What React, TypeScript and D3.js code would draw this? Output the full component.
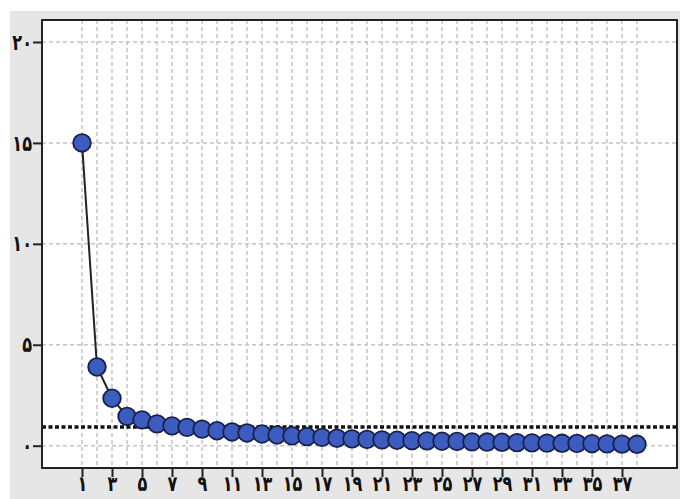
import React, { useEffect, useRef } from "react";
import * as d3 from "d3";

// scree plot values (eigenvalue per component)
const components = d3.range(1, 39);
const eigenvalues = [
  15.0, 3.9, 2.35, 1.45, 1.28, 1.08, 0.98, 0.91, 0.82, 0.74,
  0.68, 0.63, 0.58, 0.53, 0.49, 0.45, 0.41, 0.37, 0.34, 0.31,
  0.29, 0.27, 0.25, 0.24, 0.22, 0.21, 0.19, 0.18, 0.17, 0.15,
  0.14, 0.13, 0.12, 0.11, 0.1, 0.09, 0.08, 0.07,
];
const yTicks = [0, 5, 10, 15, 20];
const xTicks = d3.range(1, 38, 2);
const threshold = 0.93;

const toPersian = (n: number) =>
  String(n).replace(/\d/g, (d) => "۰۱۲۳۴۵۶۷۸۹"[+d]);

const ScreePlot = () => {
  const ref = useRef<SVGSVGElement>(null);

  const W = 680;
  const H = 499;
  const panel = { left: 42, right: 677, top: 20, bottom: 468 };

  useEffect(() => {
    const svg = d3.select(ref.current);
    svg.selectAll("*").remove();

    const data = components.map((c, i) => ({ c, v: eigenvalues[i] }));

    const x = d3.scaleLinear().domain([1, 38]).range([82, 637]);
    const y = d3.scaleLinear().domain([0, 20]).range([445.7, 42]);

    // background
    svg.append("rect").attr("x", 10).attr("y", 11).attr("width", W - 10).attr("height", H - 11).attr("fill", "#e6e6e6");
    svg
      .append("rect")
      .attr("x", panel.left)
      .attr("y", panel.top)
      .attr("width", panel.right - panel.left)
      .attr("height", panel.bottom - panel.top)
      .attr("fill", "#fff");

    // grid
    const grid = svg.append("g").attr("stroke", "#c4c4c4").attr("stroke-width", 1.5).attr("stroke-dasharray", "4,3");
    grid
      .selectAll("line.v")
      .data(components)
      .enter()
      .append("line")
      .attr("x1", (d) => x(d))
      .attr("x2", (d) => x(d))
      .attr("y1", panel.top)
      .attr("y2", panel.bottom);
    grid
      .selectAll("line.h")
      .data(yTicks)
      .enter()
      .append("line")
      .attr("x1", panel.left)
      .attr("x2", panel.right)
      .attr("y1", (d) => y(d))
      .attr("y2", (d) => y(d));

    // threshold line
    svg
      .append("line")
      .attr("x1", panel.left)
      .attr("x2", panel.right)
      .attr("y1", y(threshold))
      .attr("y2", y(threshold))
      .attr("stroke", "#111")
      .attr("stroke-width", 3.5)
      .attr("stroke-dasharray", "4,2.5");

    // line + points
    svg
      .append("path")
      .datum(data)
      .attr("fill", "none")
      .attr("stroke", "#222")
      .attr("stroke-width", 2)
      .attr("d", d3.line<any>().x((d) => x(d.c)).y((d) => y(d.v)));

    svg
      .append("g")
      .selectAll("circle")
      .data(data)
      .enter()
      .append("circle")
      .attr("cx", (d) => x(d.c))
      .attr("cy", (d) => y(d.v))
      .attr("r", 8.8)
      .attr("fill", "#3d5cc0")
      .attr("stroke", "#18214a")
      .attr("stroke-width", 1.8);

    // panel border
    svg
      .append("rect")
      .attr("x", panel.left)
      .attr("y", panel.top)
      .attr("width", panel.right - panel.left)
      .attr("height", panel.bottom - panel.top)
      .attr("fill", "none")
      .attr("stroke", "#222")
      .attr("stroke-width", 2);

    const styleLabels = (sel: any) =>
      sel
        .attr("fill", "#111")
        .style("font-family", "DejaVu Sans")
        .style("font-weight", "bold")
        .style("font-size", "17px");

    // Y axis
    const yAxis = svg
      .append("g")
      .attr("transform", `translate(${panel.left},0)`)
      .call(d3.axisLeft(y).tickValues(yTicks).tickSize(9).tickFormat((d) => toPersian(+d)));
    yAxis.select(".domain").remove();
    yAxis.selectAll("line").attr("stroke", "#222").attr("stroke-width", 2);
    styleLabels(yAxis.selectAll("text"))
      .attr("x", 0)
      .attr("dy", "0.32em")
      .attr("transform", "translate(-10,0) scale(0.95,1.3)");

    // X axis
    const xAxis = svg
      .append("g")
      .attr("transform", `translate(0,${panel.bottom})`)
      .call(d3.axisBottom(x).tickValues(xTicks).tickSize(9).tickFormat((d) => toPersian(+d)));
    xAxis.select(".domain").remove();
    xAxis.selectAll("line").attr("stroke", "#222").attr("stroke-width", 2);
    styleLabels(xAxis.selectAll("text"))
      .attr("y", 0)
      .attr("dy", "0.6em")
      .attr("transform", "translate(0,10) scale(0.95,1.25)");
  }, []);

  return <svg ref={ref} width={W} height={H} style={{ position: "absolute", left: 0, top: 0 }} />;
};

export default function App() {
  return <ScreePlot />;
}
